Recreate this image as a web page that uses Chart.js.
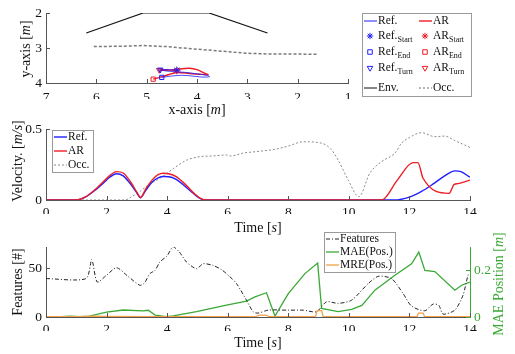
<!DOCTYPE html>
<html>
<head>
<meta charset="utf-8">
<script src="https://cdn.jsdelivr.net/npm/chart.js@4.4.1/dist/chart.umd.min.js"></script>
<style>
  body { margin: 0; background: #fff; }
  #wrap { position: relative; width: 515px; height: 354px; }
  canvas { position: absolute; left: 0; top: 0; }
</style>
</head>
<body>
<div id="wrap">
  <canvas id="trajChart" width="515" height="354"></canvas>
  <canvas id="velChart" width="515" height="354"></canvas>
  <canvas id="featChart" width="515" height="354"></canvas>
</div>
<script>
// ---- top plot: trajectories (x-axis [m] vs y-axis [m]) ----
var envX = [6.2, 5.07, 3.76, 2.6];
var envY = [2.57, 2.0, 2.0, 2.57];
var occPathX = [6.05, 5.5, 5.07, 4.6, 4.2, 3.6, 3.0, 2.6, 2.2, 1.6];
var occPathY = [2.96, 2.95, 2.93, 2.96, 3.01, 3.08, 3.15, 3.17, 3.17, 3.18];
var refPathX = [4.40, 4.55, 4.73, 4.60, 4.40, 4.20, 4.00, 3.80, 3.75, 3.90, 4.10, 4.30, 4.50, 4.70];
var refPathY = [3.63, 3.62, 3.62, 3.66, 3.68, 3.70, 3.74, 3.78, 3.82, 3.83, 3.80, 3.78, 3.80, 3.84];
var arPathX = [4.40, 4.60, 4.75, 4.55, 4.35, 4.15, 4.00, 3.85, 3.78, 3.95, 4.15, 4.40, 4.65, 4.87];
var arPathY = [3.65, 3.62, 3.63, 3.63, 3.60, 3.58, 3.62, 3.72, 3.76, 3.75, 3.73, 3.70, 3.80, 3.89];
var refStart = [4.40, 3.63], arStart = [4.40, 3.65];
var refEnd = [4.70, 3.84], arEnd = [4.87, 3.89];
var refTurn = [4.73, 3.62], arTurn = [4.75, 3.63];
var posXTicks = [7, 6, 5, 4, 3, 2, 1];
var posYTicks = [2, 3, 4];

// ---- middle plot: velocity [m/s] over time [s] ----
var refVelT = [0, 1.0, 1.3, 1.6, 1.9, 2.1, 2.33, 2.55, 2.8, 3.0, 3.12, 3.3, 3.5, 3.7, 3.9, 4.05, 4.3, 4.6, 4.9, 5.1, 5.25, 11.5, 12.0, 12.4, 12.8, 13.2, 13.5, 13.7, 14.0];
var refVel = [0, 0, 0.02, 0.065, 0.12, 0.16, 0.185, 0.17, 0.11, 0.05, 0.016, 0.07, 0.125, 0.155, 0.165, 0.164, 0.145, 0.095, 0.04, 0.01, 0, 0, 0.02, 0.06, 0.115, 0.175, 0.205, 0.2, 0.16];
var arVelT = [0, 1.0, 1.3, 1.6, 1.9, 2.1, 2.33, 2.55, 2.8, 3.0, 3.12, 3.3, 3.5, 3.7, 3.87, 4.05, 4.3, 4.6, 4.9, 5.1, 5.3, 11.08, 11.6, 12.12, 12.28, 12.45, 13.31, 13.48, 13.6, 14.0];
var arVel = [0, 0, 0.022, 0.07, 0.13, 0.172, 0.2, 0.19, 0.125, 0.055, 0.018, 0.08, 0.14, 0.178, 0.188, 0.185, 0.165, 0.11, 0.045, 0.012, 0, 0, 0.14, 0.263, 0.263, 0.153, 0.047, 0.11, 0.115, 0.14];
var occVelT = [0, 2.6, 2.8, 3.1, 3.4, 3.76, 4.2, 4.64, 5.08, 5.5, 5.96, 6.1, 6.5, 6.9, 7.56, 8.0, 8.49, 9.1, 9.4, 9.65, 9.98, 10.33, 10.69, 11.08, 11.52, 11.74, 12.0, 12.4, 12.84, 13.17, 13.5, 13.94, 14.0];
var occVel = [0, 0, 0.02, 0.06, 0.11, 0.153, 0.22, 0.28, 0.305, 0.31, 0.317, 0.31, 0.33, 0.34, 0.357, 0.38, 0.41, 0.40, 0.36, 0.28, 0.14, 0.023, 0.188, 0.27, 0.33, 0.40, 0.44, 0.474, 0.446, 0.45, 0.418, 0.376, 0.37];
var timeTicks = [0, 2, 4, 6, 8, 10, 12, 14];
var velTicks = [0, 0.5];

// ---- bottom plot: features [#] and position error [m] ----
var featT = [0, 1.32, 1.51, 1.69, 2.0, 2.33, 2.7, 3.1, 3.25, 3.43, 3.6, 3.76, 4.0, 4.2, 4.4, 4.64, 4.97, 5.19, 5.52, 5.8, 6.05, 6.29, 6.62, 6.84, 7.0, 7.34, 8.0, 8.5, 8.93, 9.26, 9.65, 10.09, 10.64, 10.97, 11.41, 11.79, 12.07, 12.51, 12.78, 12.97, 13.11, 13.5, 13.77, 13.94, 14.0];
var features = [39.5, 39.5, 59, 36, 43, 50.7, 42, 32.6, 35, 44.6, 48, 56.5, 63, 72.4, 67, 56.5, 49.7, 54.8, 53, 48.6, 42, 34.4, 17.3, 5.4, 4, 7.1, 7, 7, 5.4, 15.6, 14, 17.3, 34.4, 41.8, 39.5, 24.2, 11.2, 6.4, 13.3, 12, 3, 7.1, 22.4, 43.5, 44];
var maeT = [0, 0.5, 0.8, 1.1, 1.43, 2.0, 2.55, 3.21, 3.38, 3.6, 3.97, 4.2, 4.97, 5.96, 6.62, 6.9, 7.28, 7.56, 8.0, 8.55, 8.97, 9.1, 9.65, 10.09, 10.43, 10.86, 11.52, 12.07, 12.31, 12.51, 12.84, 13.5, 13.72, 14.0];
var maePos = [0, 0.002, 0.004, 0.001, 0.004, 0.021, 0.03, 0.026, 0.029, 0.008, 0.002, 0.005, 0.023, 0.051, 0.068, 0.086, 0.104, 0.004, 0.1, 0.186, 0.231, 0.037, 0.023, 0.033, 0.05, 0.115, 0.179, 0.228, 0.278, 0.2, 0.195, 0.115, 0.136, 0.15];
var mreT = [0, 1.2, 1.5, 2.0, 3.5, 4.0, 6.9, 7.05, 7.25, 7.4, 8.9, 8.95, 9.1, 9.15, 12.25, 12.3, 12.45, 12.5, 14.0];
var mrePos = [0.001, 0.001, 0.004, 0.003, 0.002, 0.001, 0.001, 0.008, 0.008, 0.001, 0.001, 0.027, 0.027, 0.002, 0.002, 0.017, 0.017, 0.002, 0.002];
var featTicks = [0, 50];
var maeTicks = [0, 0.2];

var SERIF = '"Liberation Serif", "Times New Roman", serif';
var AXIS = '#555';
var BLUE = '#1f1fff', RED = '#ee1c24', GRAY = '#8a8a8a', GREEN = '#3aa935', ORANGE = '#f5a048';
var TICK_FONT = { family: SERIF, size: 13.5 };

Chart.defaults.font.family = SERIF;
Chart.defaults.font.size = 13;
Chart.defaults.color = '#111';
Chart.defaults.animation = false;

function pts(xs, ys) {
    return xs.map(function (x, i) { return { x: x, y: ys[i] }; });
}

function fixTicks(values) {
    return function (scale) {
        scale.ticks = values.map(function (v) { return { value: v }; });
    };
}

function fontFor(style, size) {
    if (style === 'i') return 'italic ' + size + 'px ' + SERIF;
    if (style === 's') return Math.round(size * 0.72) + 'px ' + SERIF;
    return size + 'px ' + SERIF;
}

// text with italic / subscript pieces
function drawRich(ctx, parts, x, y, opts) {
    var size = opts.size || 14;
    ctx.save();
    ctx.translate(x, y);
    if (opts.rotate) ctx.rotate(opts.rotate);
    ctx.fillStyle = opts.color || '#111';
    ctx.textBaseline = 'middle';
    ctx.textAlign = 'left';
    var widths = [], total = 0;
    parts.forEach(function (p, i) {
        ctx.font = fontFor(p[1], size);
        widths[i] = ctx.measureText(p[0]).width;
        total += widths[i];
    });
    var cx = opts.align === 'left' ? 0 : -total / 2;
    parts.forEach(function (p, i) {
        ctx.font = fontFor(p[1], size);
        ctx.fillText(p[0], cx, p[1] === 's' ? size * 0.38 : 0);
        cx += widths[i];
    });
    ctx.restore();
}

function drawLegend(ctx, box, rows) {
    ctx.save();
    ctx.fillStyle = '#fff';
    ctx.fillRect(box.x, box.y, box.w, box.h);
    ctx.strokeStyle = '#9a9a9a';
    ctx.lineWidth = 1;
    ctx.strokeRect(box.x + 0.5, box.y + 0.5, box.w, box.h);
    rows.forEach(function (r) {
        ctx.save();
        ctx.strokeStyle = r.color;
        ctx.fillStyle = 'rgba(0,0,0,0)';
        ctx.lineWidth = r.width || 1;
        if (r.marker) {
            Chart.helpers.drawPoint(ctx, { pointStyle: r.marker, radius: 3.2, rotation: r.rotation || 0, borderWidth: 1 }, r.x + 6, r.y);
        } else {
            ctx.setLineDash(r.dash || []);
            ctx.beginPath();
            ctx.moveTo(r.x, r.y);
            ctx.lineTo(r.x + 13, r.y);
            ctx.stroke();
        }
        ctx.restore();
        drawRich(ctx, r.text, r.x + 14, r.y, { size: 11.5, align: 'left' });
    });
    ctx.restore();
}

// MATLAB style ticks pointing into the plot
var inwardTicks = {
    id: 'inwardTicks',
    afterDatasetsDraw: function (chart) {
        var ctx = chart.ctx, a = chart.chartArea;
        ctx.save();
        ctx.lineWidth = 1;
        Object.values(chart.scales).forEach(function (s) {
            ctx.strokeStyle = s.options.border.color;
            s.ticks.forEach(function (t) {
                var p = Math.round(s.getPixelForValue(t.value)) + 0.5;
                ctx.beginPath();
                if (s.axis === 'x') { ctx.moveTo(p, a.bottom); ctx.lineTo(p, a.bottom - 4); }
                else if (s.position === 'left') { ctx.moveTo(a.left, p); ctx.lineTo(a.left + 4, p); }
                else { ctx.moveTo(a.right, p); ctx.lineTo(a.right - 4, p); }
                ctx.stroke();
            });
        });
        ctx.restore();
    }
};

function axisX(min, max, ticks, height, pad, reverse) {
    return {
        type: 'linear', min: min, max: max, reverse: !!reverse,
        grid: { display: false, drawTicks: false },
        border: { display: true, color: AXIS },
        ticks: { padding: pad, autoSkip: false, maxRotation: 0, font: TICK_FONT, color: '#111' },
        afterBuildTicks: fixTicks(ticks),
        afterFit: function (s) { s.height = height; }
    };
}

function axisY(min, max, ticks, width, pos, color, reverse) {
    return {
        type: 'linear', position: pos, min: min, max: max, reverse: !!reverse,
        grid: { display: false, drawTicks: false },
        border: { display: true, color: color || AXIS },
        ticks: { padding: 4, color: color || '#111', font: TICK_FONT },
        afterBuildTicks: fixTicks(ticks),
        afterFit: function (s) { s.width = width; }
    };
}

// ---- top chart ----
new Chart(document.getElementById('trajChart'), {
    type: 'scatter',
    data: {
        datasets: [
            { data: [{ x: refStart[0], y: refStart[1] }], pointStyle: 'star', pointRadius: 3.5, borderColor: BLUE, borderWidth: 1 },
            { data: [{ x: arStart[0], y: arStart[1] }], pointStyle: 'star', pointRadius: 3.5, borderColor: RED, borderWidth: 1 },
            { data: [{ x: refEnd[0], y: refEnd[1] }], pointStyle: 'rect', pointRadius: 3, borderColor: BLUE, backgroundColor: 'rgba(0,0,0,0)', borderWidth: 1 },
            { data: [{ x: arEnd[0], y: arEnd[1] }], pointStyle: 'rect', pointRadius: 3, borderColor: RED, backgroundColor: 'rgba(0,0,0,0)', borderWidth: 1 },
            { data: [{ x: refTurn[0], y: refTurn[1] }], pointStyle: 'triangle', rotation: 180, pointRadius: 3.2, borderColor: BLUE, backgroundColor: 'rgba(0,0,0,0)', borderWidth: 1 },
            { data: [{ x: arTurn[0], y: arTurn[1] }], pointStyle: 'triangle', rotation: 180, pointRadius: 3.2, borderColor: RED, backgroundColor: 'rgba(0,0,0,0)', borderWidth: 1 },
            { data: pts(refPathX, refPathY), showLine: true, pointRadius: 0, borderColor: BLUE, borderWidth: 0.8, tension: 0.3 },
            { data: pts(arPathX, arPathY), showLine: true, pointRadius: 0, borderColor: RED, borderWidth: 1.4, tension: 0.3 },
            { data: pts(envX, envY), showLine: true, pointRadius: 0, borderColor: '#111', borderWidth: 1.2 },
            { data: pts(occPathX, occPathY), showLine: true, pointRadius: 0, borderColor: '#7a7a7a', borderWidth: 1.5, borderDash: [3, 2] }
        ]
    },
    options: {
        responsive: false,
        events: [],
        layout: { padding: { left: 0, top: 13, right: 167, bottom: 354 - 83 - 16 } },
        plugins: { legend: { display: false }, tooltip: { enabled: false } },
        scales: {
            x: axisX(1, 7, posXTicks, 16, 6, true),
            y: axisY(2, 4, posYTicks, 46, 'left', null, true)
        }
    },
    plugins: [inwardTicks, {
        id: 'trajText',
        afterDraw: function (chart) {
            var ctx = chart.ctx;
            drawRich(ctx, [['x-axis [', ''], ['m', 'i'], [']', '']], 197, 110, { size: 14 });
            drawRich(ctx, [['y-axis [', ''], ['m', 'i'], [']', '']], 26, 49, { size: 14, rotate: -Math.PI / 2 });
            drawLegend(ctx, { x: 362, y: 13, w: 109, h: 83 }, [
                { x: 364, y: 21, color: BLUE, text: [['Ref.', '']] },
                { x: 419, y: 21, color: RED, width: 1.4, text: [['AR', '']] },
                { x: 364, y: 36, color: BLUE, marker: 'star', text: [['Ref.', ''], ['Start', 's']] },
                { x: 419, y: 36, color: RED, marker: 'star', text: [['AR', ''], ['Start', 's']] },
                { x: 364, y: 52, color: BLUE, marker: 'rect', text: [['Ref.', ''], ['End', 's']] },
                { x: 419, y: 52, color: RED, marker: 'rect', text: [['AR', ''], ['End', 's']] },
                { x: 364, y: 68, color: BLUE, marker: 'triangle', rotation: 180, text: [['Ref.', ''], ['Turn', 's']] },
                { x: 419, y: 68, color: RED, marker: 'triangle', rotation: 180, text: [['AR', ''], ['Turn', 's']] },
                { x: 364, y: 88, color: '#111', text: [['Env.', '']] },
                { x: 419, y: 88, color: '#6a6a6a', dash: [2, 2], text: [['Occ.', '']] }
            ]);
        }
    }]
});

// ---- middle chart ----
new Chart(document.getElementById('velChart'), {
    type: 'line',
    data: {
        datasets: [
            { data: pts(arVelT, arVel), borderColor: RED, borderWidth: 1.4, pointRadius: 0, cubicInterpolationMode: 'monotone' },
            { data: pts(refVelT, refVel), borderColor: BLUE, borderWidth: 1.4, pointRadius: 0, cubicInterpolationMode: 'monotone' },
            { data: pts(occVelT, occVel), borderColor: GRAY, borderWidth: 1, borderDash: [2, 2], pointRadius: 0, cubicInterpolationMode: 'monotone' }
        ]
    },
    options: {
        responsive: false,
        events: [],
        layout: { padding: { left: 0, top: 129, right: 45, bottom: 354 - 200 - 14 } },
        plugins: { legend: { display: false }, tooltip: { enabled: false } },
        scales: {
            x: axisX(0, 14, timeTicks, 14, 4),
            y: axisY(0, 0.5, velTicks, 46, 'left')
        }
    },
    plugins: [inwardTicks, {
        id: 'velText',
        afterDraw: function (chart) {
            var ctx = chart.ctx;
            drawRich(ctx, [['Time [', ''], ['s', 'i'], [']', '']], 258, 228, { size: 14 });
            drawRich(ctx, [['Velocity. [', ''], ['m/s', 'i'], [']', '']], 18, 161, { size: 14, rotate: -Math.PI / 2 });
            drawLegend(ctx, { x: 52, y: 130, w: 41, h: 42 }, [
                { x: 54, y: 137, color: BLUE, width: 1.4, text: [['Ref.', '']] },
                { x: 54, y: 151, color: RED, width: 1.4, text: [['AR', '']] },
                { x: 54, y: 165, color: GRAY, dash: [2, 2], text: [['Occ.', '']] }
            ]);
        }
    }]
});

// ---- bottom chart ----
new Chart(document.getElementById('featChart'), {
    type: 'line',
    data: {
        datasets: [
            { data: pts(mreT, mrePos), yAxisID: 'y2', borderColor: ORANGE, borderWidth: 1.3, pointRadius: 0 },
            { data: pts(featT, features), yAxisID: 'y', borderColor: '#222', borderWidth: 1, borderDash: [4, 2, 1, 2], pointRadius: 0, tension: 0.25 },
            { data: pts(maeT, maePos), yAxisID: 'y2', borderColor: GREEN, borderWidth: 1.3, pointRadius: 0 }
        ]
    },
    options: {
        responsive: false,
        events: [],
        layout: { padding: { left: 0, top: 247, right: 0, bottom: 354 - 317 - 14 } },
        plugins: { legend: { display: false }, tooltip: { enabled: false } },
        scales: {
            x: axisX(0, 14, timeTicks, 14, 4),
            y: axisY(0, 72, featTicks, 46, 'left'),
            y2: axisY(0, 0.3, maeTicks, 45, 'right', GREEN)
        }
    },
    plugins: [inwardTicks, {
        id: 'featText',
        afterDraw: function (chart) {
            var ctx = chart.ctx;
            drawRich(ctx, [['Time [', ''], ['s', 'i'], [']', '']], 258, 343, { size: 14 });
            drawRich(ctx, [['Features [#]', '']], 18, 282, { size: 14, rotate: -Math.PI / 2 });
            drawRich(ctx, [['MAE Position [', ''], ['m', 'i'], [']', '']], 499, 284, { size: 14, rotate: -Math.PI / 2, color: GREEN });
            drawLegend(ctx, { x: 324, y: 232, w: 71, h: 40 }, [
                { x: 326, y: 239, color: '#222', dash: [4, 2, 1, 2], text: [['Features', '']] },
                { x: 326, y: 252, color: GREEN, width: 1.3, text: [['MAE(Pos.)', '']] },
                { x: 326, y: 265, color: ORANGE, width: 1.3, text: [['MRE(Pos.)', '']] }
            ]);
        }
    }]
});
</script>
</body>
</html>
